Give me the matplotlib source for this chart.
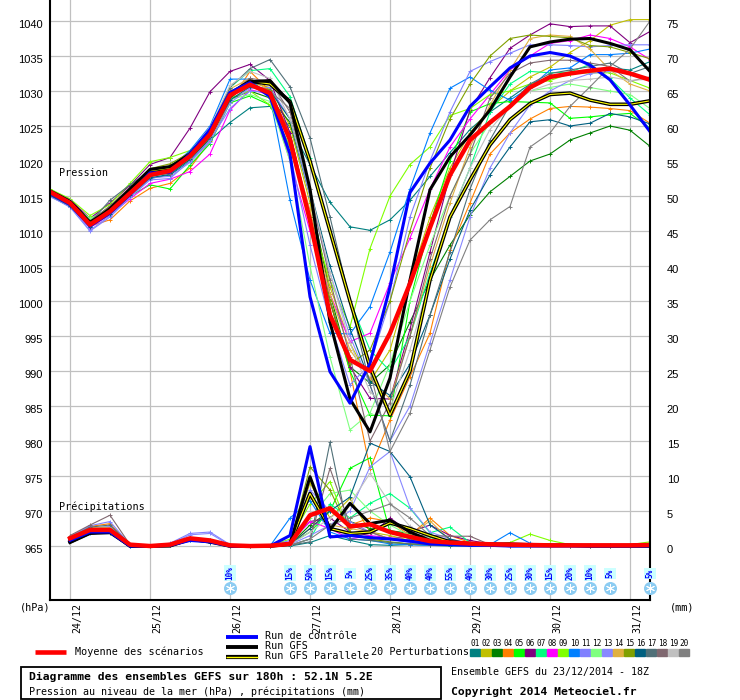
import matplotlib.pyplot as plt
from matplotlib.lines import Line2D
from matplotlib.patches import Rectangle
from matplotlib.transforms import ScaledTranslation

# time steps of 6h, from 23/12 18Z (0) to 31/12 06Z (30)
steps = list(range(31))
day_steps = [1, 5, 9, 13, 17, 21, 25, 29]
day_labels = ['24/12', '25/12', '26/12', '27/12', '28/12', '29/12', '30/12', '31/12']

# sea level pressure (hPa)
mean_p = [1015.6, 1014.0, 1010.9, 1012.8, 1015.4, 1018.0, 1018.6, 1020.7, 1023.8, 1029.4, 1030.9, 1029.7, 1023.0, 1011.5, 998.0, 991.6,
          990.0, 995.4, 1002.5, 1010.5, 1018.0, 1023.0, 1025.5, 1027.8, 1030.5, 1032.0, 1032.5, 1032.9, 1033.2, 1032.5, 1031.6]
ctrl_p = [1015.4, 1013.8, 1010.7, 1012.6, 1015.2, 1018.3, 1018.4, 1021.0, 1024.5, 1029.8, 1031.2, 1029.2, 1021.0, 1000.6, 989.9, 985.4,
          991.1, 1002.0, 1015.5, 1019.7, 1023.0, 1027.8, 1030.6, 1033.3, 1035.0, 1035.5, 1035.0, 1033.7, 1031.6, 1028.0, 1024.2]
gfs_p = [1015.5, 1014.0, 1011.0, 1013.2, 1016.0, 1018.8, 1019.2, 1020.8, 1024.0, 1029.2, 1031.3, 1031.5, 1028.3, 1016.0, 997.0, 986.0,
         981.3, 989.0, 1003.0, 1015.9, 1020.6, 1023.7, 1027.3, 1032.0, 1036.3, 1037.0, 1037.4, 1037.5, 1036.8, 1035.9, 1032.8]
par_p = [1015.7, 1014.2, 1011.2, 1013.0, 1015.8, 1018.6, 1019.0, 1021.0, 1024.2, 1029.6, 1031.4, 1031.0, 1028.5, 1020.0, 1010.0, 1000.0,
         990.6, 983.7, 990.0, 1003.0, 1012.0, 1017.3, 1022.3, 1025.9, 1028.2, 1029.5, 1029.7, 1028.7, 1028.1, 1028.1, 1028.6]

p01 = [1015.2, 1013.7, 1010.6, 1012.5, 1015.0, 1017.5, 1018.0, 1020.0, 1023.0, 1025.5, 1027.6, 1027.8, 1024.9, 1019.5, 1014.1, 1010.6,
       1010.1, 1011.6, 1014.4, 1017.8, 1021.2, 1024.5, 1027.0, 1029.0, 1031.0, 1032.0, 1032.5, 1033.0, 1033.3, 1033.0, 1034.2]
p02 = [1015.8, 1014.3, 1011.4, 1013.3, 1016.0, 1018.8, 1019.2, 1021.0, 1024.3, 1029.8, 1031.2, 1030.5, 1025.0, 1014.0, 1002.0, 994.0,
       988.5, 993.0, 1003.0, 1012.0, 1019.0, 1024.0, 1027.5, 1030.0, 1032.0, 1033.4, 1035.5, 1037.2, 1039.4, 1040.2, 1040.2]
p03 = [1015.4, 1013.8, 1010.8, 1012.6, 1015.3, 1017.8, 1018.3, 1020.2, 1023.2, 1028.8, 1030.0, 1029.0, 1025.5, 1015.0, 1001.0, 990.6,
       988.3, 990.9, 997.0, 1003.0, 1008.0, 1012.3, 1015.6, 1017.8, 1020.0, 1021.0, 1023.0, 1024.0, 1025.0, 1024.4, 1022.1]
p04 = [1015.0, 1013.5, 1010.7, 1011.6, 1014.3, 1016.1, 1016.8, 1019.0, 1022.8, 1028.5, 1032.8, 1030.0, 1024.0, 1012.0, 1000.0, 990.0,
       976.0, 983.0, 989.2, 995.4, 1007.3, 1014.0, 1021.0, 1024.0, 1026.0, 1027.5, 1027.8, 1027.7, 1027.5, 1027.2, 1025.4]
p05 = [1015.6, 1014.0, 1011.5, 1012.5, 1015.0, 1016.6, 1016.0, 1019.4, 1022.5, 1028.3, 1029.3, 1028.0, 1022.0, 1012.0, 1000.0, 990.0,
       983.7, 983.6, 1000.0, 1011.0, 1020.0, 1027.0, 1028.2, 1028.5, 1028.4, 1028.3, 1026.1, 1026.3, 1026.6, 1026.8, 1024.7]
p06 = [1015.9, 1014.5, 1011.8, 1014.0, 1016.5, 1019.5, 1020.5, 1024.7, 1029.9, 1032.8, 1033.8, 1031.5, 1024.0, 1012.0, 1000.0, 990.6,
       986.1, 986.0, 996.0, 1007.0, 1018.0, 1027.3, 1031.9, 1036.1, 1038.0, 1039.6, 1039.2, 1039.3, 1039.3, 1036.9, 1038.5]
p07 = [1015.7, 1014.2, 1011.6, 1013.4, 1016.0, 1018.5, 1019.3, 1021.3, 1024.5, 1030.5, 1032.9, 1033.2, 1029.2, 1020.4, 1010.0, 1000.0,
       993.0, 990.0, 995.0, 1004.0, 1012.0, 1019.0, 1027.0, 1031.0, 1032.8, 1032.6, 1032.7, 1033.8, 1031.8, 1029.0, 1026.6]
p08 = [1015.2, 1013.6, 1010.5, 1012.3, 1014.6, 1016.8, 1017.4, 1018.5, 1021.0, 1027.3, 1030.2, 1029.5, 1020.0, 1010.0, 1001.0, 994.2,
       995.4, 1002.6, 1009.0, 1016.0, 1022.0, 1026.0, 1029.5, 1033.0, 1035.0, 1036.8, 1037.2, 1038.0, 1037.5, 1036.3, 1034.5]
p09 = [1016.0, 1014.6, 1012.2, 1013.8, 1016.8, 1019.9, 1020.5, 1021.5, 1024.0, 1029.0, 1030.0, 1028.0, 1022.0, 1012.0, 1003.0, 996.3,
       1007.5, 1015.0, 1019.5, 1022.0, 1026.5, 1027.5, 1029.5, 1030.0, 1031.0, 1031.5, 1032.5, 1032.6, 1032.6, 1031.5, 1030.4]
p10 = [1015.3, 1013.8, 1010.7, 1012.8, 1015.6, 1018.6, 1019.0, 1021.5, 1025.0, 1031.7, 1031.7, 1029.2, 1014.4, 1003.0, 995.4, 995.3,
       999.2, 1007.0, 1016.0, 1024.0, 1030.4, 1032.0, 1030.1, 1028.7, 1030.5, 1033.0, 1033.3, 1035.2, 1035.2, 1035.4, 1036.0]
p11 = [1015.0, 1013.4, 1010.0, 1012.0, 1014.8, 1017.3, 1017.5, 1020.0, 1023.0, 1027.5, 1030.0, 1029.8, 1021.0, 1008.0, 997.0, 988.0,
       991.0, 1000.0, 1012.0, 1020.0, 1027.0, 1032.8, 1034.2, 1035.4, 1036.6, 1036.6, 1036.5, 1036.3, 1036.5, 1036.6, 1036.6]
p12 = [1015.5, 1014.0, 1011.8, 1013.0, 1015.5, 1018.2, 1018.8, 1020.5, 1023.5, 1028.8, 1029.5, 1028.5, 1020.0, 1005.0, 992.0, 981.6,
       984.0, 991.0, 1000.0, 1008.0, 1015.0, 1021.0, 1025.5, 1028.0, 1030.0, 1030.5, 1031.0, 1030.5, 1030.0, 1029.5, 1027.5]
p13 = [1014.9, 1013.5, 1010.1, 1012.2, 1014.9, 1017.6, 1017.8, 1019.8, 1022.7, 1028.3, 1030.4, 1030.5, 1026.0, 1015.0, 1004.0, 995.0,
       988.0, 980.0, 985.0, 994.0, 1003.0, 1012.0, 1019.0, 1024.0, 1028.0, 1030.0, 1031.5, 1032.5, 1032.8, 1032.5, 1031.5]
p14 = [1015.3, 1013.9, 1011.0, 1012.9, 1015.7, 1018.4, 1018.9, 1020.9, 1024.6, 1030.3, 1031.8, 1030.0, 1023.0, 1013.0, 1001.0, 993.0,
       989.0, 986.0, 995.0, 1005.0, 1014.0, 1022.0, 1028.0, 1033.0, 1037.5, 1038.0, 1037.8, 1036.0, 1033.0, 1031.0, 1030.0]
p15 = [1015.6, 1014.1, 1011.3, 1013.5, 1016.2, 1018.9, 1019.6, 1021.2, 1024.2, 1029.5, 1030.7, 1030.2, 1023.5, 1012.0, 1000.0, 991.0,
       993.0, 1000.0, 1010.0, 1019.0, 1026.0, 1031.0, 1035.0, 1037.5, 1038.0, 1037.8, 1037.6, 1036.5, 1036.3, 1035.5, 1034.6]
p16 = [1015.1, 1013.6, 1010.6, 1012.4, 1015.1, 1017.6, 1018.1, 1020.3, 1023.4, 1028.7, 1030.6, 1030.0, 1026.0, 1016.0, 1005.0, 996.0,
       988.5, 986.5, 991.0, 998.0, 1006.0, 1013.0, 1018.0, 1022.0, 1025.6, 1025.9, 1025.0, 1025.4, 1026.8, 1026.3, 1025.3]
p17 = [1015.5, 1014.2, 1011.2, 1014.4, 1016.6, 1018.5, 1018.6, 1020.8, 1024.6, 1030.5, 1033.2, 1034.5, 1030.6, 1023.3, 1012.0, 1000.0,
       988.0, 980.0, 988.0, 998.0, 1007.0, 1016.0, 1023.0, 1028.0, 1031.0, 1032.5, 1033.0, 1033.5, 1034.0, 1032.5, 1033.5]
p18 = [1015.4, 1014.4, 1011.4, 1013.6, 1016.2, 1018.0, 1018.2, 1020.6, 1023.9, 1029.6, 1031.8, 1031.4, 1027.0, 1016.0, 1003.0, 992.0,
       980.0, 985.5, 995.0, 1006.0, 1015.0, 1021.0, 1029.0, 1032.5, 1034.0, 1034.4, 1034.4, 1034.0, 1033.5, 1031.4, 1032.0]
p19 = [1015.8, 1014.4, 1011.2, 1013.1, 1015.9, 1018.5, 1019.0, 1021.2, 1024.8, 1030.8, 1032.8, 1031.8, 1026.0, 1016.0, 1004.0, 994.0,
       987.0, 984.5, 993.0, 1003.0, 1012.0, 1019.0, 1024.5, 1027.8, 1030.0, 1031.0, 1031.5, 1031.7, 1032.0, 1031.5, 1031.7]
p20 = [1015.3, 1013.9, 1010.9, 1012.7, 1015.3, 1017.9, 1018.4, 1020.4, 1023.6, 1029.2, 1031.0, 1030.0, 1027.5, 1020.0, 1010.0, 1000.0,
       990.0, 978.5, 984.0, 993.0, 1002.0, 1008.7, 1011.6, 1013.5, 1022.0, 1024.0, 1027.8, 1030.6, 1033.5, 1036.0, 1040.0]

# 6h precipitation (mm), from step 1 to step 30
mean_r = [1.1, 2.3, 2.3, 0.2, 0.0, 0.2, 1.1, 0.8, 0.1, 0.0, 0.05, 0.3, 4.4, 5.4, 2.8, 3.1, 2.0, 1.3, 0.7, 0.5,
          0.35, 0.25, 0.2, 0.15, 0.1, 0.1, 0.1, 0.1, 0.1, 0.15]
ctrl_r = [0.8, 2.0, 2.0, 0.0, 0.0, 0.1, 0.8, 0.6, 0.0, 0.0, 0.0, 1.5, 14.2, 1.3, 1.5, 1.2, 1.0, 0.7, 0.3, 0.2,
          0.1, 0.1, 0.0, 0.0, 0.0, 0.0, 0.0, 0.0, 0.0, 0.0]
gfs_r = [0.5, 1.8, 1.9, 0.0, 0.0, 0.0, 0.9, 0.7, 0.0, 0.0, 0.0, 0.3, 9.9, 2.3, 6.1, 3.2, 3.7, 2.0, 0.8, 0.3,
         0.3, 0.3, 0.3, 0.2, 0.1, 0.1, 0.1, 0.1, 0.1, 0.1]
par_r = [0.6, 1.9, 2.1, 0.0, 0.0, 0.1, 1.0, 0.6, 0.0, 0.0, 0.0, 0.3, 7.5, 2.5, 1.8, 2.0, 3.3, 2.5, 1.5, 0.6,
         0.3, 0.2, 0.1, 0.1, 0.1, 0.1, 0.0, 0.0, 0.0, 0.0]

r01 = [1.0, 2.0, 1.8, 0.0, 0.0, 0.1, 0.8, 0.5, 0.0, 0.0, 0.0, 0.0, 0.5, 1.5, 0.8, 0.2, 0.1, 0.2, 0.1, 0.0,
       0.0, 0.0, 0.0, 0.0, 0.0, 0.0, 0.0, 0.0, 0.0, 0.0]
r02 = [1.2, 2.6, 2.4, 0.1, 0.0, 0.2, 1.2, 0.9, 0.0, 0.0, 0.0, 0.4, 9.0, 4.0, 6.8, 2.0, 1.5, 0.8, 0.4, 0.2,
       0.1, 0.1, 0.0, 0.0, 0.0, 0.0, 0.0, 0.0, 0.0, 0.0]
r03 = [1.0, 2.2, 2.5, 0.1, 0.0, 0.2, 1.0, 0.8, 0.1, 0.0, 0.0, 0.2, 3.0, 5.0, 3.5, 2.5, 2.2, 1.8, 1.2, 0.6,
       0.3, 0.2, 0.1, 0.1, 0.1, 0.1, 0.1, 0.1, 0.1, 0.1]
r04 = [1.4, 2.8, 3.2, 0.2, 0.0, 0.2, 1.2, 0.8, 0.1, 0.0, 0.0, 0.2, 2.5, 5.0, 3.0, 4.0, 3.5, 1.5, 4.0, 1.5,
       0.5, 0.3, 0.2, 0.1, 0.1, 0.1, 0.1, 0.1, 0.1, 0.1]
r05 = [0.9, 2.0, 2.3, 0.1, 0.0, 0.1, 1.0, 0.7, 0.0, 0.0, 0.0, 0.3, 2.0, 5.0, 11.1, 12.6, 2.0, 1.0, 0.5, 0.3,
       0.2, 0.1, 0.1, 0.0, 0.0, 0.0, 0.0, 0.0, 0.0, 0.0]
r06 = [1.0, 2.3, 2.6, 0.2, 0.0, 0.3, 1.2, 0.6, 0.0, 0.0, 0.0, 0.5, 3.5, 4.0, 2.0, 1.5, 4.0, 2.0, 3.0, 1.5,
       0.8, 0.3, 0.2, 0.1, 0.1, 0.1, 0.1, 0.1, 0.1, 0.1]
r07 = [1.1, 2.4, 2.2, 0.1, 0.0, 0.1, 1.0, 0.8, 0.0, 0.0, 0.0, 0.1, 1.0, 6.0, 4.0, 6.1, 7.5, 5.4, 1.9, 2.7,
       0.5, 0.3, 0.2, 0.1, 0.1, 0.1, 0.1, 0.1, 0.1, 0.1]
r08 = [0.9, 2.1, 2.0, 0.1, 0.0, 0.2, 1.1, 0.7, 0.0, 0.0, 0.0, 0.6, 3.5, 2.5, 1.0, 1.5, 1.2, 0.8, 0.5, 0.3,
       0.1, 0.1, 0.0, 0.0, 0.0, 0.0, 0.0, 0.0, 0.0, 0.0]
r09 = [1.2, 2.5, 2.8, 0.2, 0.0, 0.2, 1.0, 0.9, 0.1, 0.0, 0.0, 1.0, 6.0, 9.2, 2.0, 0.8, 0.5, 0.3, 0.2, 0.2,
       0.2, 0.1, 0.5, 1.7, 0.8, 0.2, 0.2, 0.2, 0.2, 0.6]
r10 = [0.8, 1.8, 2.0, 0.0, 0.0, 0.1, 0.9, 0.6, 0.0, 0.0, 0.0, 4.0, 6.5, 2.0, 1.0, 0.8, 0.3, 0.2, 0.1, 0.1,
       0.1, 0.2, 1.9, 0.4, 0.1, 0.0, 0.0, 0.0, 0.0, 0.0]
r11 = [1.3, 2.9, 3.5, 0.2, 0.0, 0.4, 1.8, 2.0, 0.2, 0.0, 0.0, 0.8, 8.0, 5.0, 3.5, 2.0, 1.0, 0.5, 0.3, 0.2,
       0.1, 0.0, 0.0, 0.0, 0.0, 0.0, 0.0, 0.0, 0.0, 0.0]
r12 = [1.0, 2.2, 2.4, 0.1, 0.0, 0.2, 1.0, 0.8, 0.0, 0.0, 0.0, 0.2, 4.0, 7.5, 8.0, 5.0, 3.0, 1.5, 1.2, 0.6,
       0.3, 0.1, 0.1, 0.1, 0.1, 0.1, 0.1, 0.1, 0.1, 0.3]
r13 = [1.2, 2.5, 2.8, 0.1, 0.0, 0.3, 1.6, 1.8, 0.1, 0.0, 0.0, 0.2, 1.5, 3.0, 5.0, 11.3, 13.5, 5.5, 2.0, 1.0,
       0.4, 0.2, 0.1, 0.1, 0.1, 0.0, 0.0, 0.0, 0.0, 0.0]
r14 = [1.1, 2.6, 2.6, 0.1, 0.0, 0.2, 1.1, 0.8, 0.0, 0.0, 0.0, 0.4, 7.0, 3.0, 2.5, 2.0, 1.0, 1.5, 3.6, 0.8,
       0.3, 0.2, 0.1, 0.1, 0.1, 0.1, 0.1, 0.1, 0.1, 0.1]
r15 = [1.0, 2.4, 2.5, 0.1, 0.0, 0.2, 1.1, 0.8, 0.0, 0.0, 0.0, 0.3, 11.3, 8.0, 2.0, 1.0, 0.6, 0.3, 0.2, 0.1,
       0.1, 0.1, 0.0, 0.0, 0.0, 0.0, 0.0, 0.0, 0.0, 0.0]
r16 = [0.9, 2.2, 2.3, 0.1, 0.0, 0.1, 1.0, 0.7, 0.0, 0.0, 0.0, 0.2, 2.5, 5.0, 7.0, 14.7, 13.5, 9.9, 3.0, 1.0,
       0.3, 0.2, 0.1, 0.1, 0.1, 0.1, 0.1, 0.1, 0.1, 0.1]
r17 = [1.2, 2.7, 3.0, 0.2, 0.0, 0.2, 1.1, 0.8, 0.1, 0.0, 0.0, 0.1, 0.6, 14.8, 1.0, 0.8, 0.5, 0.3, 0.2, 0.1,
       0.1, 0.1, 0.1, 0.1, 0.1, 0.1, 0.1, 0.1, 0.1, 0.1]
r18 = [1.5, 3.0, 4.4, 0.2, 0.0, 0.2, 1.0, 0.7, 0.1, 0.0, 0.0, 0.1, 1.0, 11.1, 3.0, 2.0, 1.0, 1.5, 1.5, 1.4,
       1.4, 0.2, 0.1, 0.1, 0.1, 0.1, 0.1, 0.1, 0.1, 0.1]
r19 = [1.0, 2.3, 2.4, 0.1, 0.0, 0.2, 1.2, 0.9, 0.0, 0.0, 0.0, 0.2, 2.0, 4.0, 6.0, 10.4, 6.1, 2.8, 1.0, 0.4,
       0.2, 0.1, 0.1, 0.1, 0.1, 0.1, 0.1, 0.1, 0.1, 0.1]
r20 = [1.1, 2.5, 2.2, 0.1, 0.0, 0.2, 1.1, 0.7, 0.0, 0.0, 0.0, 0.1, 1.0, 3.0, 4.0, 5.0, 6.0, 4.0, 1.5, 0.6,
       0.3, 0.2, 0.1, 0.1, 0.1, 0.1, 0.1, 0.1, 0.1, 0.1]

pert_p = [p01, p02, p03, p04, p05, p06, p07, p08, p09, p10, p11, p12, p13, p14, p15, p16, p17, p18, p19, p20]
pert_r = [r01, r02, r03, r04, r05, r06, r07, r08, r09, r10, r11, r12, r13, r14, r15, r16, r17, r18, r19, r20]
pert_colors = ['#008080', '#c0c000', '#008000', '#ff8000', '#00ff00', '#800080', '#00ff80', '#ff00ff', '#80ff00', '#0080ff',
               '#8080ff', '#80ff80', '#8888ff', '#e0b040', '#80a000', '#006080', '#507078', '#806870', '#c0c0c0', '#808080']

# snow probability
snow_steps = [9, 12, 13, 14, 15, 16, 17, 18, 19, 20, 21, 22, 23, 24, 25, 26, 27, 28, 30]
snow_pct = [10, 15, 50, 15, 5, 25, 35, 40, 40, 55, 40, 30, 25, 30, 15, 20, 10, 5, 5]

MONO = 'DejaVu Sans Mono'
W, H = 740, 700


def fx(px):
    return px / W


def fy(py):
    return 1 - py / H


fig = plt.figure(figsize=(7.4, 7.0), dpi=100)
ax = fig.add_axes([fx(50), fy(600), 600 / W, 600 / H])
ax.set_xlim(0, 30)
ax.set_ylim(957.29, 1043)

rsteps = steps[1:]
for pp, rr, c in zip(pert_p, pert_r, pert_colors):
    ax.plot(steps, pp, color=c, lw=0.8, marker='+', ms=3, mew=0.7)
    ax.plot(rsteps, [965 + v for v in rr], color=c, lw=0.8, marker='+', ms=3, mew=0.7)

# GFS parallel : black with yellow core
for data in (par_p, [965 + v for v in par_r]):
    xs = steps if len(data) == 31 else rsteps
    ax.plot(xs, data, color='black', lw=2.6)
    ax.plot(xs, data, color='#ffff00', lw=0.8)
ax.plot(steps, gfs_p, color='black', lw=2.2)
ax.plot(rsteps, [965 + v for v in gfs_r], color='black', lw=2.2)
ax.plot(steps, ctrl_p, color='#0000ff', lw=2.2)
ax.plot(rsteps, [965 + v for v in ctrl_r], color='#0000ff', lw=2.2)
ax.plot(steps, mean_p, color='#ff0000', lw=3.2)
ax.plot(rsteps, [965 + v for v in mean_r], color='#ff0000', lw=3.2)

# snow icons
for s, pct in zip(snow_steps, snow_pct):
    ax.text(s, 961.1, f'{pct}%', rotation=90, ha='center', va='center', color='blue', fontsize=5.5,
            family=MONO, weight='bold', clip_on=False,
            bbox=dict(boxstyle='square,pad=0.15', fc='#ccffff', ec='none'))
ax.scatter(snow_steps, [959.0] * len(snow_steps), s=70, color='#8cccf2', zorder=5, clip_on=False)
ax.scatter(snow_steps, [959.0] * len(snow_steps), s=35, marker=(6, 2, 0), color='white', lw=0.7, zorder=6,
           clip_on=False)

ax.text(0.45, 1018.3, 'Pression', fontsize=7.3, family=MONO, va='center')
ax.text(0.45, 970.6, 'Précipitations', fontsize=7.3, family=MONO, va='center')

# grid and axes
ax.set_xticks(day_steps, day_labels, rotation=90, family=MONO, fontsize=7.2)
ax.set_yticks(range(965, 1041, 5))
ax.set_axisbelow(True)
ax.grid(True, color='#c0c0c0', lw=0.9)
ax.tick_params(axis='x', length=0, pad=2.2)
ax.tick_params(axis='y', length=0, pad=5, labelsize=8)
for lab in ax.get_yticklabels():
    lab.set_family('Liberation Sans')
    lab.set_transform(lab.get_transform() + ScaledTranslation(0, -0.03, fig.dpi_scale_trans))
for lab in ax.get_xticklabels():
    lab.set_va('top')
    lab.set_transform(lab.get_transform() + ScaledTranslation(0.07, 0, fig.dpi_scale_trans))

sec = ax.secondary_yaxis('right', functions=(lambda p: p - 965, lambda m: m + 965))
sec.set_yticks(range(0, 80, 5))
sec.tick_params(length=0, pad=12, labelsize=8)
for lab in sec.get_yticklabels():
    lab.set_family('Liberation Sans')
    lab.set_transform(lab.get_transform() + ScaledTranslation(0, -0.03, fig.dpi_scale_trans))
sec.spines['right'].set_visible(False)

ax.spines['top'].set_visible(False)
for side in ('left', 'right', 'bottom'):
    ax.spines[side].set_linewidth(1.5)
    ax.spines[side].set_color('black')

fig.text(fx(20), fy(607), '(hPa)', fontsize=7.3, family=MONO, va='center')
fig.text(fx(670), fy(607), '(mm)', fontsize=7.3, family=MONO, va='center')

# legend
def fig_line(x0, x1, y, color, lw):
    fig.add_artist(Line2D([fx(x0), fx(x1)], [fy(y), fy(y)], color=color, lw=lw, transform=fig.transFigure,
                          solid_capstyle='butt'))


fig_line(35, 66, 652, '#ff0000', 3.3)
fig.text(fx(75), fy(652), 'Moyenne des scénarios', fontsize=7.3, family=MONO, va='center')
fig_line(226, 258, 637, '#0000ff', 2.8)
fig_line(226, 258, 647, 'black', 2.8)
fig_line(226, 258, 657, 'black', 3.0)
fig_line(226, 258, 657, '#ffff00', 1.0)
fig.text(fx(265), fy(636), 'Run de contrôle', fontsize=7.3, family=MONO, va='center')
fig.text(fx(265), fy(646), 'Run GFS', fontsize=7.3, family=MONO, va='center')
fig.text(fx(265), fy(656), 'Run GFS Parallele', fontsize=7.3, family=MONO, va='center')
fig.text(fx(371), fy(652), '20 Perturbations', fontsize=7.3, family=MONO, va='center')
for k, c in enumerate(pert_colors):
    fig.add_artist(Rectangle((fx(470 + 11 * k), fy(655.5)), 10 / W, 6.5 / H, color=c,
                             transform=fig.transFigure))
    fig.text(fx(475.5 + 11 * k), fy(643), f'{k + 1:02d}', fontsize=5.6, family=MONO, ha='center', va='center')

# title box
fig.add_artist(Rectangle((fx(21), fy(699)), 420 / W, 32 / H, fill=False, ec='black', lw=1.3,
                         transform=fig.transFigure))
fig.text(fx(29), fy(677), 'Diagramme des ensembles GEFS sur 180h : 52.1N 5.2E', fontsize=8.2, family=MONO,
         weight='bold', va='center')
fig.text(fx(29), fy(692), 'Pression au niveau de la mer (hPa) , précipitations (mm)', fontsize=7.2, family=MONO,
         va='center')
fig.text(fx(451), fy(672), 'Ensemble GEFS du 23/12/2014 - 18Z', fontsize=7.2, family=MONO, va='center')
fig.text(fx(451), fy(692), 'Copyright 2014 Meteociel.fr', fontsize=8.2, family=MONO, weight='bold', va='center')

fig.savefig('out.png', dpi=100)
